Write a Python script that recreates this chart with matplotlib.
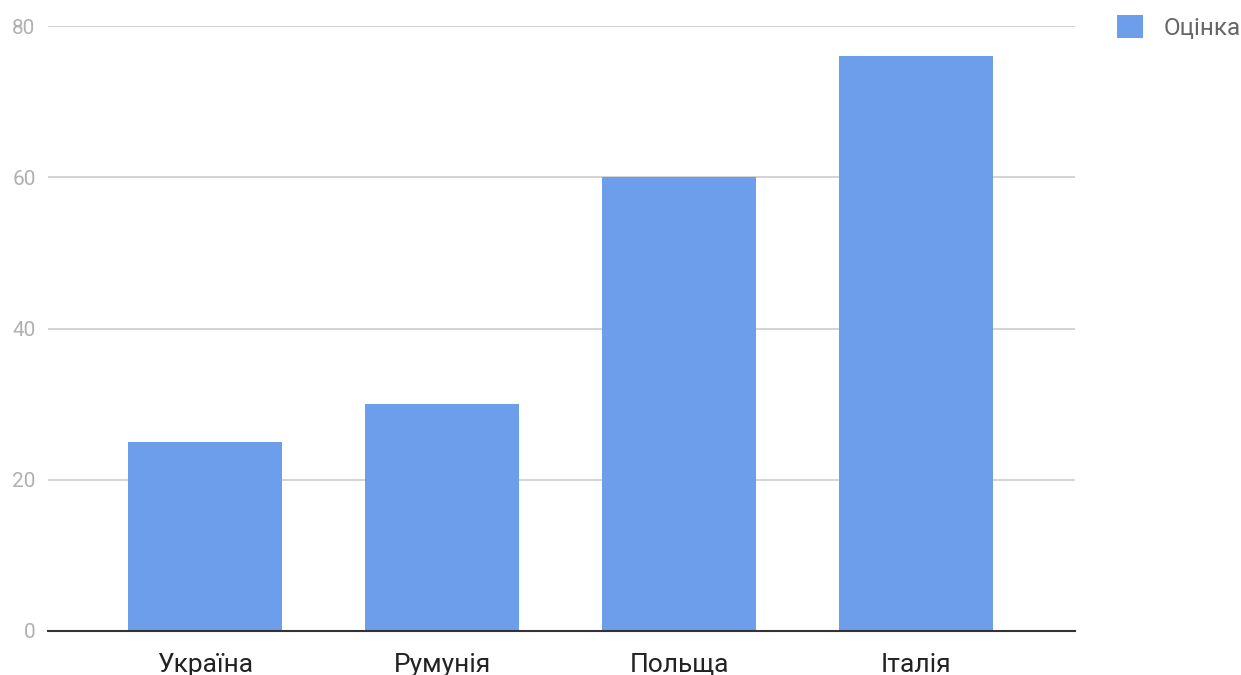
import matplotlib.pyplot as plt
import numpy as np

plt.rcParams['font.family'] = ['Roboto', 'DejaVu Sans']

# data
countries = ['Україна', 'Румунія', 'Польща', 'Італія']
scores = [25, 30, 60, 76]
y_ticks = [0, 20, 40, 60, 80]

x = np.arange(len(countries))

fig = plt.figure(figsize=(12.41, 6.75), dpi=100)
ax = fig.add_axes([48 / 1241, 44 / 675, 1027 / 1241, 605 / 675])

ax.bar(x, scores, width=0.648, color='#6d9eeb', label='Оцінка', zorder=3)

ax.set_xlim(-0.663, 3.67)
ax.set_ylim(0, 80)
ax.set_yticks(y_ticks)
ax.set_xticks(x)
ax.set_xticklabels(countries, fontsize=19, color='#222222')
ax.tick_params(axis='y', labelsize=15, labelcolor='#b0b0b0', length=0, pad=9)
ax.tick_params(axis='x', length=0, pad=16)

ax.grid(axis='y', color='#cccccc', linewidth=1.2, zorder=0)
for side in ['top', 'right', 'left']:
    ax.spines[side].set_visible(False)
ax.spines['bottom'].set_color('#333333')
ax.spines['bottom'].set_linewidth(1.5)
ax.spines['bottom'].set_zorder(4)

leg = fig.legend(loc='upper left', bbox_to_anchor=(1107 / 1241, 1 - 5 / 675),
                 frameon=False, fontsize=17.5, handlelength=1.1, handleheight=1.1,
                 handletextpad=0.85, borderaxespad=0)
for t in leg.get_texts():
    t.set_color('#666666')

fig.savefig('out.png', dpi=100)
